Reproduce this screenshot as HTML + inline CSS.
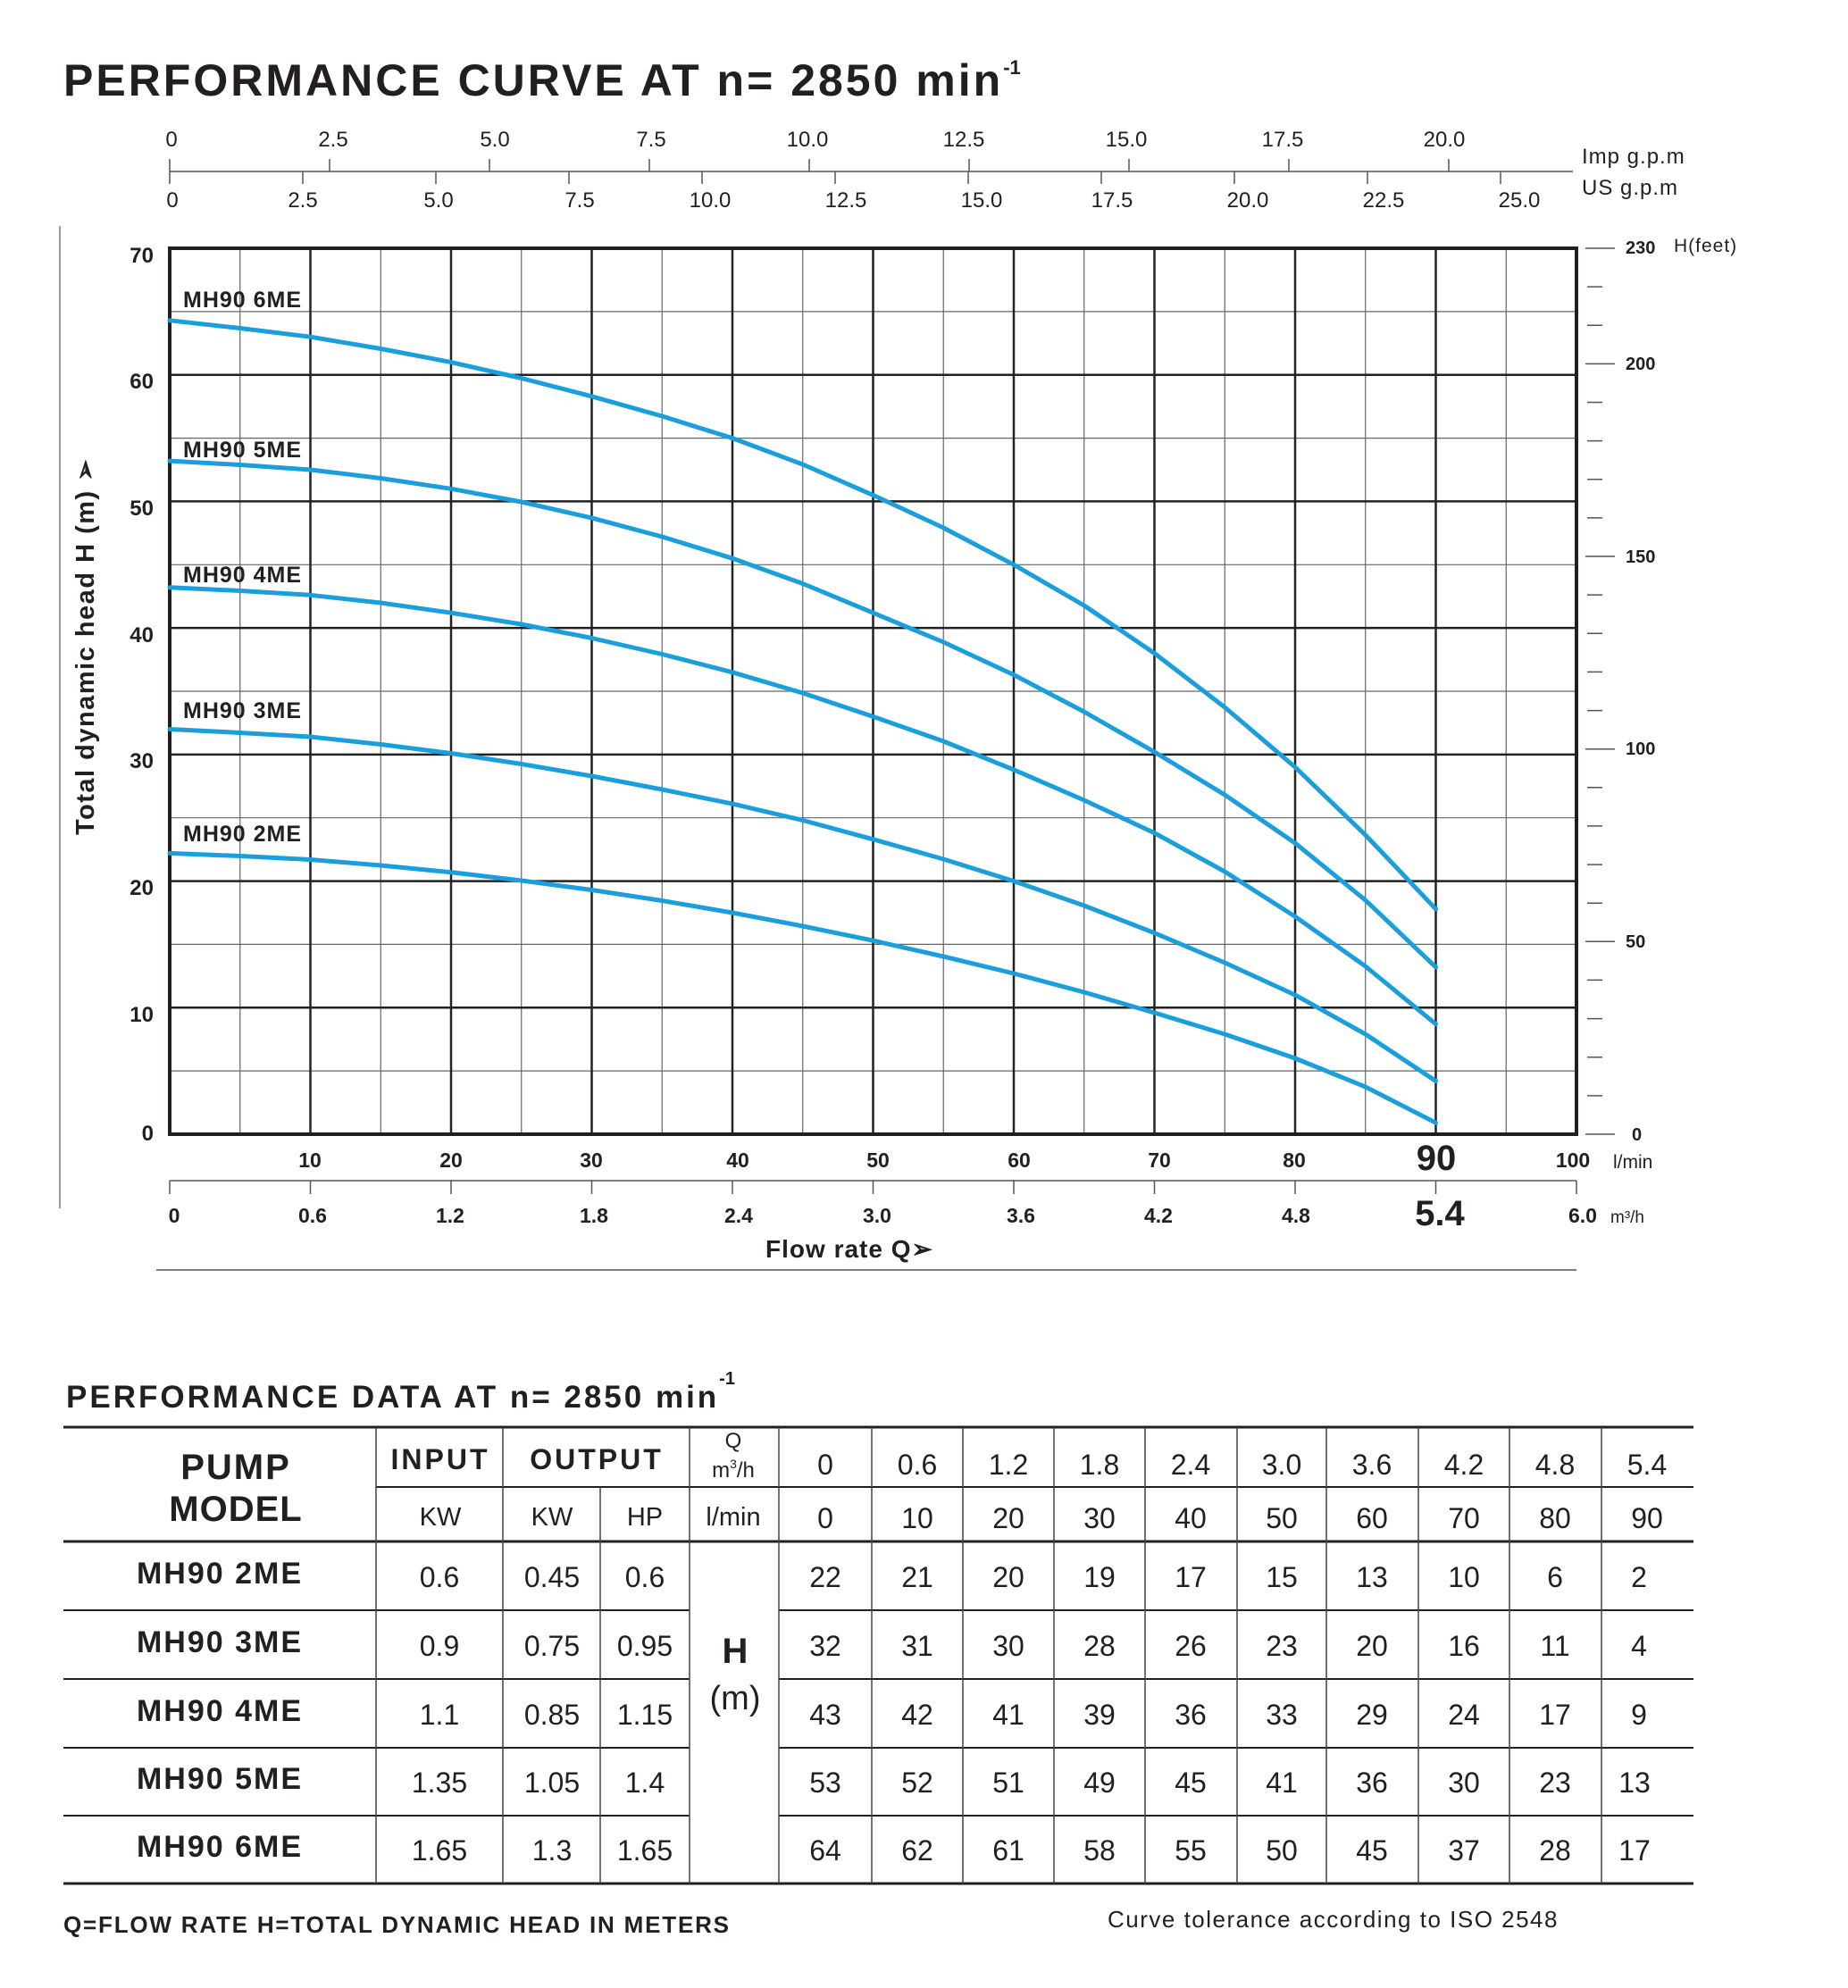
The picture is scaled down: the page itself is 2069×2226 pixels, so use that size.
<!DOCTYPE html>
<html><head><meta charset="utf-8"><style>
html,body{margin:0;padding:0;background:#fff}
svg{display:block}
text{font-family:"Liberation Sans",sans-serif;fill:#231f20}
.b{font-weight:bold}
</style></head><body>
<svg width="2069" height="2226" viewBox="0 0 2069 2226" xmlns="http://www.w3.org/2000/svg">
<!-- Title -->
<text x="71" y="107" class="b" font-size="50" letter-spacing="3">PERFORMANCE CURVE AT n= 2850 min<tspan font-size="22" dy="-24" letter-spacing="0">-1</tspan></text>

<!-- Top gpm axis -->
<line x1="190" y1="192" x2="1761" y2="192" stroke="#555" stroke-width="1.5"/>
<g stroke="#555" stroke-width="1.5">
<line x1="190" y1="178" x2="190" y2="206"/>
<line x1="369" y1="178" x2="369" y2="192"/><line x1="548" y1="178" x2="548" y2="192"/><line x1="727" y1="178" x2="727" y2="192"/><line x1="906" y1="178" x2="906" y2="192"/><line x1="1085" y1="178" x2="1085" y2="192"/><line x1="1264" y1="178" x2="1264" y2="192"/><line x1="1443" y1="178" x2="1443" y2="192"/><line x1="1622" y1="178" x2="1622" y2="192"/>
<line x1="339" y1="192" x2="339" y2="206"/><line x1="488" y1="192" x2="488" y2="206"/><line x1="637" y1="192" x2="637" y2="206"/><line x1="786" y1="192" x2="786" y2="206"/><line x1="935" y1="192" x2="935" y2="206"/><line x1="1084" y1="192" x2="1084" y2="206"/><line x1="1233" y1="192" x2="1233" y2="206"/><line x1="1382" y1="192" x2="1382" y2="206"/><line x1="1531" y1="192" x2="1531" y2="206"/><line x1="1680" y1="192" x2="1680" y2="206"/>
</g>
<g font-size="24" text-anchor="middle">
<text x="192" y="164">0</text><text x="373" y="164">2.5</text><text x="554" y="164">5.0</text><text x="729" y="164">7.5</text><text x="904" y="164">10.0</text><text x="1079" y="164">12.5</text><text x="1261" y="164">15.0</text><text x="1436" y="164">17.5</text><text x="1617" y="164">20.0</text>
<text x="193" y="232">0</text><text x="339" y="232">2.5</text><text x="491" y="232">5.0</text><text x="649" y="232">7.5</text><text x="795" y="232">10.0</text><text x="947" y="232">12.5</text><text x="1099" y="232">15.0</text><text x="1245" y="232">17.5</text><text x="1397" y="232">20.0</text><text x="1549" y="232">22.5</text><text x="1701" y="232">25.0</text>
</g>
<text x="1771" y="183" font-size="24" letter-spacing="1">Imp g.p.m</text>
<text x="1771" y="218" font-size="24" letter-spacing="1">US  g.p.m</text>

<!-- left thin line -->
<line x1="67" y1="253" x2="67" y2="1353" stroke="#777" stroke-width="1.5"/>

<!-- Grid -->
<g stroke="#666" stroke-width="1.2">
<line x1="268.75" y1="278" x2="268.75" y2="1270"/><line x1="426.25" y1="278" x2="426.25" y2="1270"/><line x1="583.75" y1="278" x2="583.75" y2="1270"/><line x1="741.25" y1="278" x2="741.25" y2="1270"/><line x1="898.75" y1="278" x2="898.75" y2="1270"/><line x1="1056.25" y1="278" x2="1056.25" y2="1270"/><line x1="1213.75" y1="278" x2="1213.75" y2="1270"/><line x1="1371.25" y1="278" x2="1371.25" y2="1270"/><line x1="1528.75" y1="278" x2="1528.75" y2="1270"/><line x1="1686.25" y1="278" x2="1686.25" y2="1270"/>
<line x1="190" y1="1199.1" x2="1765" y2="1199.1"/><line x1="190" y1="1057.4" x2="1765" y2="1057.4"/><line x1="190" y1="915.7" x2="1765" y2="915.7"/><line x1="190" y1="774" x2="1765" y2="774"/><line x1="190" y1="632.3" x2="1765" y2="632.3"/><line x1="190" y1="490.6" x2="1765" y2="490.6"/><line x1="190" y1="348.9" x2="1765" y2="348.9"/>
</g>
<g stroke="#222" stroke-width="2.5">
<line x1="347.5" y1="278" x2="347.5" y2="1270"/><line x1="505" y1="278" x2="505" y2="1270"/><line x1="662.5" y1="278" x2="662.5" y2="1270"/><line x1="820" y1="278" x2="820" y2="1270"/><line x1="977.5" y1="278" x2="977.5" y2="1270"/><line x1="1135" y1="278" x2="1135" y2="1270"/><line x1="1292.5" y1="278" x2="1292.5" y2="1270"/><line x1="1450" y1="278" x2="1450" y2="1270"/><line x1="1607.5" y1="278" x2="1607.5" y2="1270"/>
<line x1="190" y1="1128.3" x2="1765" y2="1128.3"/><line x1="190" y1="986.6" x2="1765" y2="986.6"/><line x1="190" y1="844.9" x2="1765" y2="844.9"/><line x1="190" y1="703.1" x2="1765" y2="703.1"/><line x1="190" y1="561.4" x2="1765" y2="561.4"/><line x1="190" y1="419.7" x2="1765" y2="419.7"/>
</g>
<rect x="190" y="278" width="1575" height="992" fill="none" stroke="#231f20" stroke-width="4"/>

<!-- Y labels -->
<g class="b" font-size="24" text-anchor="end">
<text x="172" y="294">70</text><text x="172" y="435">60</text><text x="172" y="577">50</text><text x="172" y="719">40</text><text x="172" y="860">30</text><text x="172" y="1002">20</text><text x="172" y="1144">10</text><text x="172" y="1277">0</text>
</g>
<text transform="translate(105,724) rotate(-90)" text-anchor="middle" class="b" font-size="29" letter-spacing="1.5">Total dynamic head H (m) ➢</text>

<!-- Right feet axis -->
<g stroke="#555" stroke-width="1.5">
<line x1="1775" y1="1270" x2="1808" y2="1270"/><line x1="1775" y1="1054.3" x2="1808" y2="1054.3"/><line x1="1775" y1="838.7" x2="1808" y2="838.7"/><line x1="1775" y1="623" x2="1808" y2="623"/><line x1="1775" y1="407.4" x2="1808" y2="407.4"/><line x1="1775" y1="278" x2="1808" y2="278"/>
<line x1="1777" y1="1226.9" x2="1794" y2="1226.9"/><line x1="1777" y1="1183.7" x2="1794" y2="1183.7"/><line x1="1777" y1="1140.6" x2="1794" y2="1140.6"/><line x1="1777" y1="1097.4" x2="1794" y2="1097.4"/>
<line x1="1777" y1="1011.2" x2="1794" y2="1011.2"/><line x1="1777" y1="968.1" x2="1794" y2="968.1"/><line x1="1777" y1="924.9" x2="1794" y2="924.9"/><line x1="1777" y1="881.8" x2="1794" y2="881.8"/>
<line x1="1777" y1="795.6" x2="1794" y2="795.6"/><line x1="1777" y1="752.4" x2="1794" y2="752.4"/><line x1="1777" y1="709.3" x2="1794" y2="709.3"/><line x1="1777" y1="666.1" x2="1794" y2="666.1"/>
<line x1="1777" y1="579.9" x2="1794" y2="579.9"/><line x1="1777" y1="536.8" x2="1794" y2="536.8"/><line x1="1777" y1="493.6" x2="1794" y2="493.6"/><line x1="1777" y1="450.5" x2="1794" y2="450.5"/>
<line x1="1777" y1="364.3" x2="1794" y2="364.3"/><line x1="1777" y1="321.1" x2="1794" y2="321.1"/>
</g>
<g class="b" font-size="20">
<text x="1827" y="1277">0</text><text x="1820" y="1061">50</text><text x="1820" y="845">100</text><text x="1820" y="630">150</text><text x="1820" y="414">200</text><text x="1820" y="284">230</text>
</g>
<text x="1874" y="282" font-size="21" letter-spacing="1">H(feet)</text>

<!-- Curves -->
<g fill="none" stroke="#1a9fdc" stroke-width="5" stroke-linejoin="round" stroke-linecap="round">
<polyline points="190,358.8 268.75,367.5 347.5,377.2 426.25,390.5 505,405.6 583.75,423.5 662.5,443.8 741.25,466 820,490.6 898.75,520 977.5,554.4 1056.25,591 1135,632.3 1213.75,678 1292.5,731.5 1371.25,792 1450,859 1528.75,935 1607.5,1017.8"/>
<polyline points="190,516.1 268.75,520.5 347.5,526 426.25,535.5 505,547.3 583.75,562 662.5,579.9 741.25,601 820,625.2 898.75,653.5 977.5,686.2 1056.25,719 1135,755.6 1213.75,797 1292.5,842 1371.25,890 1450,944.1 1528.75,1008 1607.5,1082.9"/>
<polyline points="190,657.8 268.75,661.5 347.5,666.3 426.25,675 505,686.2 583.75,699 662.5,714.5 741.25,732.5 820,752.8 898.75,776 977.5,802.4 1056.25,830 1135,861.9 1213.75,896 1292.5,932.7 1371.25,976 1450,1026.3 1528.75,1082 1607.5,1146.7"/>
<polyline points="190,816.5 268.75,820.5 347.5,825 426.25,833.5 505,843.5 583.75,855.5 662.5,869 741.25,884 820,900.1 898.75,918.5 977.5,939.8 1056.25,962 1135,986.6 1213.75,1014 1292.5,1044.7 1371.25,1078 1450,1114.1 1528.75,1158 1607.5,1210.5"/>
<polyline points="190,955.4 268.75,958.5 347.5,962.5 426.25,969 505,976.7 583.75,986 662.5,996.5 741.25,1008.5 820,1022 898.75,1037 977.5,1053.2 1056.25,1071 1135,1090 1213.75,1111 1292.5,1134 1371.25,1158 1450,1185 1528.75,1217 1607.5,1257.2"/>
</g>
<g class="b" font-size="25" fill="#231f20" letter-spacing="1">
<text x="205" y="344">MH90 6ME</text><text x="205" y="512">MH90 5ME</text><text x="205" y="652">MH90 4ME</text><text x="205" y="804">MH90 3ME</text><text x="205" y="942">MH90 2ME</text>
</g>

<!-- Bottom axes -->
<g class="b" font-size="23" text-anchor="middle">
<text x="347" y="1307">10</text><text x="505" y="1307">20</text><text x="662" y="1307">30</text><text x="826" y="1307">40</text><text x="983" y="1307">50</text><text x="1141" y="1307">60</text><text x="1298" y="1307">70</text><text x="1449" y="1307">80</text><text x="1761" y="1307">100</text>
<text x="1608" y="1310" font-size="40">90</text>
</g>
<text x="1806" y="1308" font-size="21">l/min</text>
<line x1="190" y1="1322" x2="1765" y2="1322" stroke="#555" stroke-width="1.5"/>
<g stroke="#555" stroke-width="1.5">
<line x1="190" y1="1322" x2="190" y2="1337"/><line x1="347.5" y1="1322" x2="347.5" y2="1337"/><line x1="505" y1="1322" x2="505" y2="1337"/><line x1="662.5" y1="1322" x2="662.5" y2="1337"/><line x1="820" y1="1322" x2="820" y2="1337"/><line x1="977.5" y1="1322" x2="977.5" y2="1337"/><line x1="1135" y1="1322" x2="1135" y2="1337"/><line x1="1292.5" y1="1322" x2="1292.5" y2="1337"/><line x1="1450" y1="1322" x2="1450" y2="1337"/><line x1="1607.5" y1="1322" x2="1607.5" y2="1337"/><line x1="1765" y1="1322" x2="1765" y2="1337"/>
</g>
<g class="b" font-size="23" text-anchor="middle">
<text x="195" y="1369">0</text><text x="350" y="1369">0.6</text><text x="504" y="1369">1.2</text><text x="665" y="1369">1.8</text><text x="827" y="1369">2.4</text><text x="982" y="1369">3.0</text><text x="1143" y="1369">3.6</text><text x="1297" y="1369">4.2</text><text x="1451" y="1369">4.8</text><text x="1772" y="1369">6.0</text>
<text x="1612" y="1372" font-size="40">5.4</text>
</g>
<text x="1803" y="1369" font-size="19">m³/h</text>
<text x="951" y="1408" text-anchor="middle" class="b" font-size="28" letter-spacing="1">Flow rate Q➢</text>
<line x1="175" y1="1422" x2="1765" y2="1422" stroke="#555" stroke-width="1.5"/>

<!-- Table title -->
<text x="74" y="1576" class="b" font-size="35" letter-spacing="3">PERFORMANCE DATA AT n= 2850 min<tspan font-size="20" dy="-26" letter-spacing="0">-1</tspan></text>

<!-- Table lines -->
<g stroke="#231f20">
<line x1="71" y1="1598" x2="1896" y2="1598" stroke-width="3"/>
<line x1="421" y1="1665" x2="1896" y2="1665" stroke-width="2"/>
<line x1="71" y1="1726" x2="1896" y2="1726" stroke-width="3"/>
<line x1="71" y1="1803" x2="772" y2="1803" stroke-width="2"/><line x1="872" y1="1803" x2="1896" y2="1803" stroke-width="2"/>
<line x1="71" y1="1880" x2="772" y2="1880" stroke-width="2"/><line x1="872" y1="1880" x2="1896" y2="1880" stroke-width="2"/>
<line x1="71" y1="1957" x2="772" y2="1957" stroke-width="2"/><line x1="872" y1="1957" x2="1896" y2="1957" stroke-width="2"/>
<line x1="71" y1="2033" x2="772" y2="2033" stroke-width="2"/><line x1="872" y1="2033" x2="1896" y2="2033" stroke-width="2"/>
<line x1="71" y1="2109" x2="1896" y2="2109" stroke-width="3"/>
</g>
<g stroke="#444" stroke-width="1.5">
<line x1="421" y1="1598" x2="421" y2="2109"/><line x1="563" y1="1598" x2="563" y2="2109"/><line x1="672" y1="1665" x2="672" y2="2109"/><line x1="772" y1="1598" x2="772" y2="2109"/><line x1="872" y1="1598" x2="872" y2="2109"/>
<line x1="976" y1="1598" x2="976" y2="2109"/><line x1="1078" y1="1598" x2="1078" y2="2109"/><line x1="1180" y1="1598" x2="1180" y2="2109"/><line x1="1282" y1="1598" x2="1282" y2="2109"/><line x1="1385" y1="1598" x2="1385" y2="2109"/><line x1="1485" y1="1598" x2="1485" y2="2109"/><line x1="1588" y1="1598" x2="1588" y2="2109"/><line x1="1690" y1="1598" x2="1690" y2="2109"/><line x1="1793" y1="1598" x2="1793" y2="2109"/>
</g>

<!-- Table headers -->
<g text-anchor="middle">
<text x="264" y="1656" class="b" font-size="40" letter-spacing="2">PUMP</text>
<text x="264" y="1703" class="b" font-size="40" letter-spacing="1">MODEL</text>
<text x="493" y="1645" class="b" font-size="32" letter-spacing="3">INPUT</text>
<text x="668" y="1645" class="b" font-size="32" letter-spacing="3">OUTPUT</text>
<text x="821" y="1621" font-size="24">Q</text>
<text x="821" y="1654" font-size="24">m<tspan font-size="14" dy="-10">3</tspan><tspan dy="10">/h</tspan></text>
<g font-size="29">
<text x="493" y="1708">KW</text><text x="618" y="1708">KW</text><text x="722" y="1708">HP</text><text x="821" y="1708">l/min</text>
</g>
<g font-size="32">
<text x="924" y="1651">0</text><text x="1027" y="1651">0.6</text><text x="1129" y="1651">1.2</text><text x="1231" y="1651">1.8</text><text x="1333" y="1651">2.4</text><text x="1435" y="1651">3.0</text><text x="1536" y="1651">3.6</text><text x="1639" y="1651">4.2</text><text x="1741" y="1651">4.8</text><text x="1844" y="1651">5.4</text>
<text x="924" y="1711">0</text><text x="1027" y="1711">10</text><text x="1129" y="1711">20</text><text x="1231" y="1711">30</text><text x="1333" y="1711">40</text><text x="1435" y="1711">50</text><text x="1536" y="1711">60</text><text x="1639" y="1711">70</text><text x="1741" y="1711">80</text><text x="1844" y="1711">90</text>
</g>
<text x="823" y="1862" class="b" font-size="40">H</text>
<text x="823" y="1914" font-size="38">(m)</text>
</g>

<!-- Table body -->
<g text-anchor="middle" font-size="32">
<g class="b" font-size="34" letter-spacing="2">
<text x="246" y="1773">MH90 2ME</text><text x="246" y="1850">MH90 3ME</text><text x="246" y="1927">MH90 4ME</text><text x="246" y="2003">MH90 5ME</text><text x="246" y="2079">MH90 6ME</text>
</g>
<text x="492" y="1777">0.6</text><text x="618" y="1777">0.45</text><text x="722" y="1777">0.6</text>
<text x="492" y="1854">0.9</text><text x="618" y="1854">0.75</text><text x="722" y="1854">0.95</text>
<text x="492" y="1931">1.1</text><text x="618" y="1931">0.85</text><text x="722" y="1931">1.15</text>
<text x="492" y="2007">1.35</text><text x="618" y="2007">1.05</text><text x="722" y="2007">1.4</text>
<text x="492" y="2083">1.65</text><text x="618" y="2083">1.3</text><text x="722" y="2083">1.65</text>
<text x="924" y="1777">22</text><text x="1027" y="1777">21</text><text x="1129" y="1777">20</text><text x="1231" y="1777">19</text><text x="1333" y="1777">17</text><text x="1435" y="1777">15</text><text x="1536" y="1777">13</text><text x="1639" y="1777">10</text><text x="1741" y="1777">6</text><text x="1835" y="1777">2</text>
<text x="924" y="1854">32</text><text x="1027" y="1854">31</text><text x="1129" y="1854">30</text><text x="1231" y="1854">28</text><text x="1333" y="1854">26</text><text x="1435" y="1854">23</text><text x="1536" y="1854">20</text><text x="1639" y="1854">16</text><text x="1741" y="1854">11</text><text x="1835" y="1854">4</text>
<text x="924" y="1931">43</text><text x="1027" y="1931">42</text><text x="1129" y="1931">41</text><text x="1231" y="1931">39</text><text x="1333" y="1931">36</text><text x="1435" y="1931">33</text><text x="1536" y="1931">29</text><text x="1639" y="1931">24</text><text x="1741" y="1931">17</text><text x="1835" y="1931">9</text>
<text x="924" y="2007">53</text><text x="1027" y="2007">52</text><text x="1129" y="2007">51</text><text x="1231" y="2007">49</text><text x="1333" y="2007">45</text><text x="1435" y="2007">41</text><text x="1536" y="2007">36</text><text x="1639" y="2007">30</text><text x="1741" y="2007">23</text><text x="1830" y="2007">13</text>
<text x="924" y="2083">64</text><text x="1027" y="2083">62</text><text x="1129" y="2083">61</text><text x="1231" y="2083">58</text><text x="1333" y="2083">55</text><text x="1435" y="2083">50</text><text x="1536" y="2083">45</text><text x="1639" y="2083">37</text><text x="1741" y="2083">28</text><text x="1830" y="2083">17</text>
</g>

<!-- Footnotes -->
<text x="71" y="2164" class="b" font-size="26" letter-spacing="1.8">Q=FLOW RATE  H=TOTAL DYNAMIC HEAD IN METERS</text>
<text x="1240" y="2158" font-size="26" letter-spacing="1.5">Curve tolerance according to ISO 2548</text>
</svg>
</body></html>
